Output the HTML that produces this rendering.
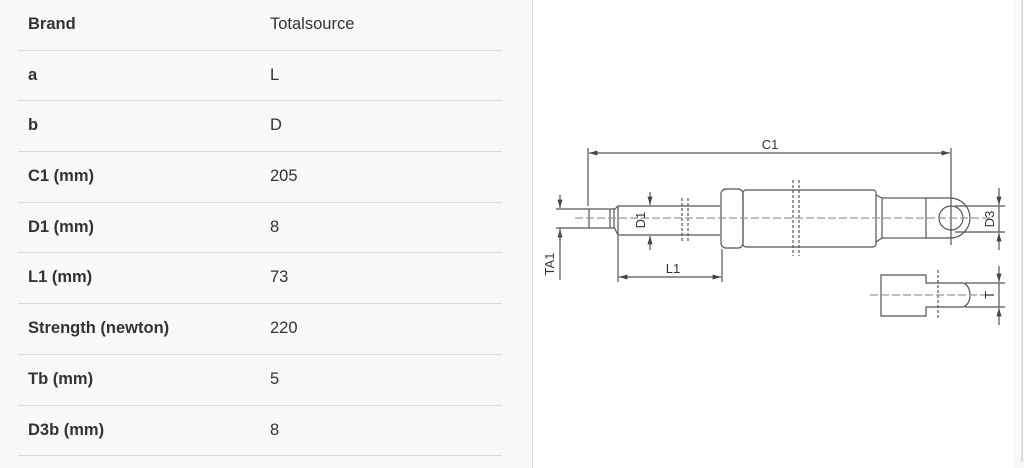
<!DOCTYPE html>
<html><head><meta charset="utf-8"><style>
html,body{margin:0;padding:0;width:1024px;height:462px;overflow:hidden;background:#f9f9f9;font-family:"Liberation Sans",sans-serif}
.tbl{position:absolute;left:18px;top:0;width:484px}
.row{position:relative;height:50.7px;border-bottom:1.3px solid #dcdcdc;box-sizing:border-box;font-size:16.5px;color:#333}
.row .k{position:absolute;left:10px;top:15px;font-weight:bold}
.row .v{position:absolute;left:252px;top:15px}
.panel{position:absolute;left:532px;top:-2px;width:481px;height:470px;background:#fff;border-left:1.5px solid #ddd}
.rb{position:absolute;left:1021px;top:0;width:1.5px;height:462px;background:#ddd}
</style></head><body>
<div class="tbl">
<div class="row"><span class="k">Brand</span><span class="v">Totalsource</span></div>
<div class="row"><span class="k">a</span><span class="v">L</span></div>
<div class="row"><span class="k">b</span><span class="v">D</span></div>
<div class="row"><span class="k">C1 (mm)</span><span class="v">205</span></div>
<div class="row"><span class="k">D1 (mm)</span><span class="v">8</span></div>
<div class="row"><span class="k">L1 (mm)</span><span class="v">73</span></div>
<div class="row"><span class="k">Strength (newton)</span><span class="v">220</span></div>
<div class="row"><span class="k">Tb (mm)</span><span class="v">5</span></div>
<div class="row"><span class="k">D3b (mm)</span><span class="v">8</span></div>
</div>
<div class="panel"></div>
<div class="rb"></div>
<svg style="position:absolute;left:0;top:0" width="1024" height="462" viewBox="0 0 1024 462">
<defs><marker id="a" viewBox="0 0 10 10" refX="10" refY="5" markerWidth="7" markerHeight="7" orient="auto-start-reverse"><path d="M0,2L10,5L0,8z" fill="#444"/></marker></defs>
<g stroke="#555" stroke-width="1.2" fill="none">
<line x1="588" y1="148" x2="588" y2="206"/><line x1="951" y1="148" x2="951" y2="245"/>
<line x1="589" y1="153" x2="950" y2="153" marker-start="url(#a)" marker-end="url(#a)"/>
<rect x="589" y="209" width="25" height="19"/>
<line x1="610" y1="209" x2="610" y2="228"/>
<path d="M614,210 L618,206 L720,206 M614,227 L618,235 L720,235"/>
<line x1="618" y1="206" x2="618" y2="235"/>
<line x1="682" y1="198" x2="682" y2="243" stroke-dasharray="3,2"/><line x1="688" y1="198" x2="688" y2="243" stroke-dasharray="3,2"/>
<rect x="721" y="189" width="22" height="59" rx="5"/>
<rect x="743" y="190" width="133" height="57" rx="3"/>
<line x1="793" y1="180" x2="793" y2="256" stroke-dasharray="3,2"/><line x1="799" y1="180" x2="799" y2="256" stroke-dasharray="3,2"/>
<path d="M876,195 L882,198 M876,242 L882,238"/>
<rect x="882" y="198" width="44" height="40"/>
<path d="M926,198 L950,198 A20,20 0 0 1 950,238 L926,238"/>
<circle cx="951" cy="218" r="12"/>
<line x1="575" y1="218" x2="990" y2="218" stroke-dasharray="8,3" stroke="#999"/>
<line x1="556" y1="209" x2="589" y2="209"/><line x1="556" y1="228" x2="589" y2="228"/>
<line x1="560" y1="195" x2="560" y2="208" marker-end="url(#a)"/><line x1="560" y1="242" x2="560" y2="229" marker-end="url(#a)"/>
<line x1="560" y1="228" x2="560" y2="280"/>
<line x1="650" y1="192" x2="650" y2="205" marker-end="url(#a)"/><line x1="650" y1="250" x2="650" y2="236" marker-end="url(#a)"/>
<line x1="618" y1="236" x2="618" y2="282"/><line x1="722" y1="249" x2="722" y2="282"/>
<line x1="619" y1="277" x2="721" y2="277" marker-start="url(#a)" marker-end="url(#a)"/>
<line x1="955" y1="206" x2="1005" y2="206"/><line x1="955" y1="232" x2="1005" y2="232"/>
<line x1="999" y1="188" x2="999" y2="205" marker-end="url(#a)"/><line x1="999" y1="250" x2="999" y2="233" marker-end="url(#a)"/>
<line x1="999" y1="206" x2="999" y2="232"/>
<path d="M881,275 L926,275 L926,283 L962,283 A8,12 0 0 1 962,307 L926,307 L926,316 L881,316 Z"/>
<line x1="938" y1="270" x2="938" y2="318" stroke-dasharray="3,2"/>
<line x1="870" y1="295" x2="985" y2="295" stroke-dasharray="8,3" stroke="#999"/>
<line x1="965" y1="283" x2="1005" y2="283"/><line x1="965" y1="307" x2="1005" y2="307"/>
<line x1="999" y1="266" x2="999" y2="282" marker-end="url(#a)"/><line x1="999" y1="325" x2="999" y2="308" marker-end="url(#a)"/>
<line x1="999" y1="283" x2="999" y2="307"/>
</g>
<g font-family="Liberation Sans,sans-serif" font-size="13" fill="#333">
<text x="770" y="149" text-anchor="middle">C1</text>
<text x="673" y="273" text-anchor="middle">L1</text>
<text transform="translate(554,264) rotate(-90)" text-anchor="middle">TA1</text>
<text transform="translate(645,220) rotate(-90)" text-anchor="middle">D1</text>
<text transform="translate(994,219) rotate(-90)" text-anchor="middle">D3</text>
<text transform="translate(994,295) rotate(-90)" text-anchor="middle">T</text>
</g>
</svg>
</body></html>
